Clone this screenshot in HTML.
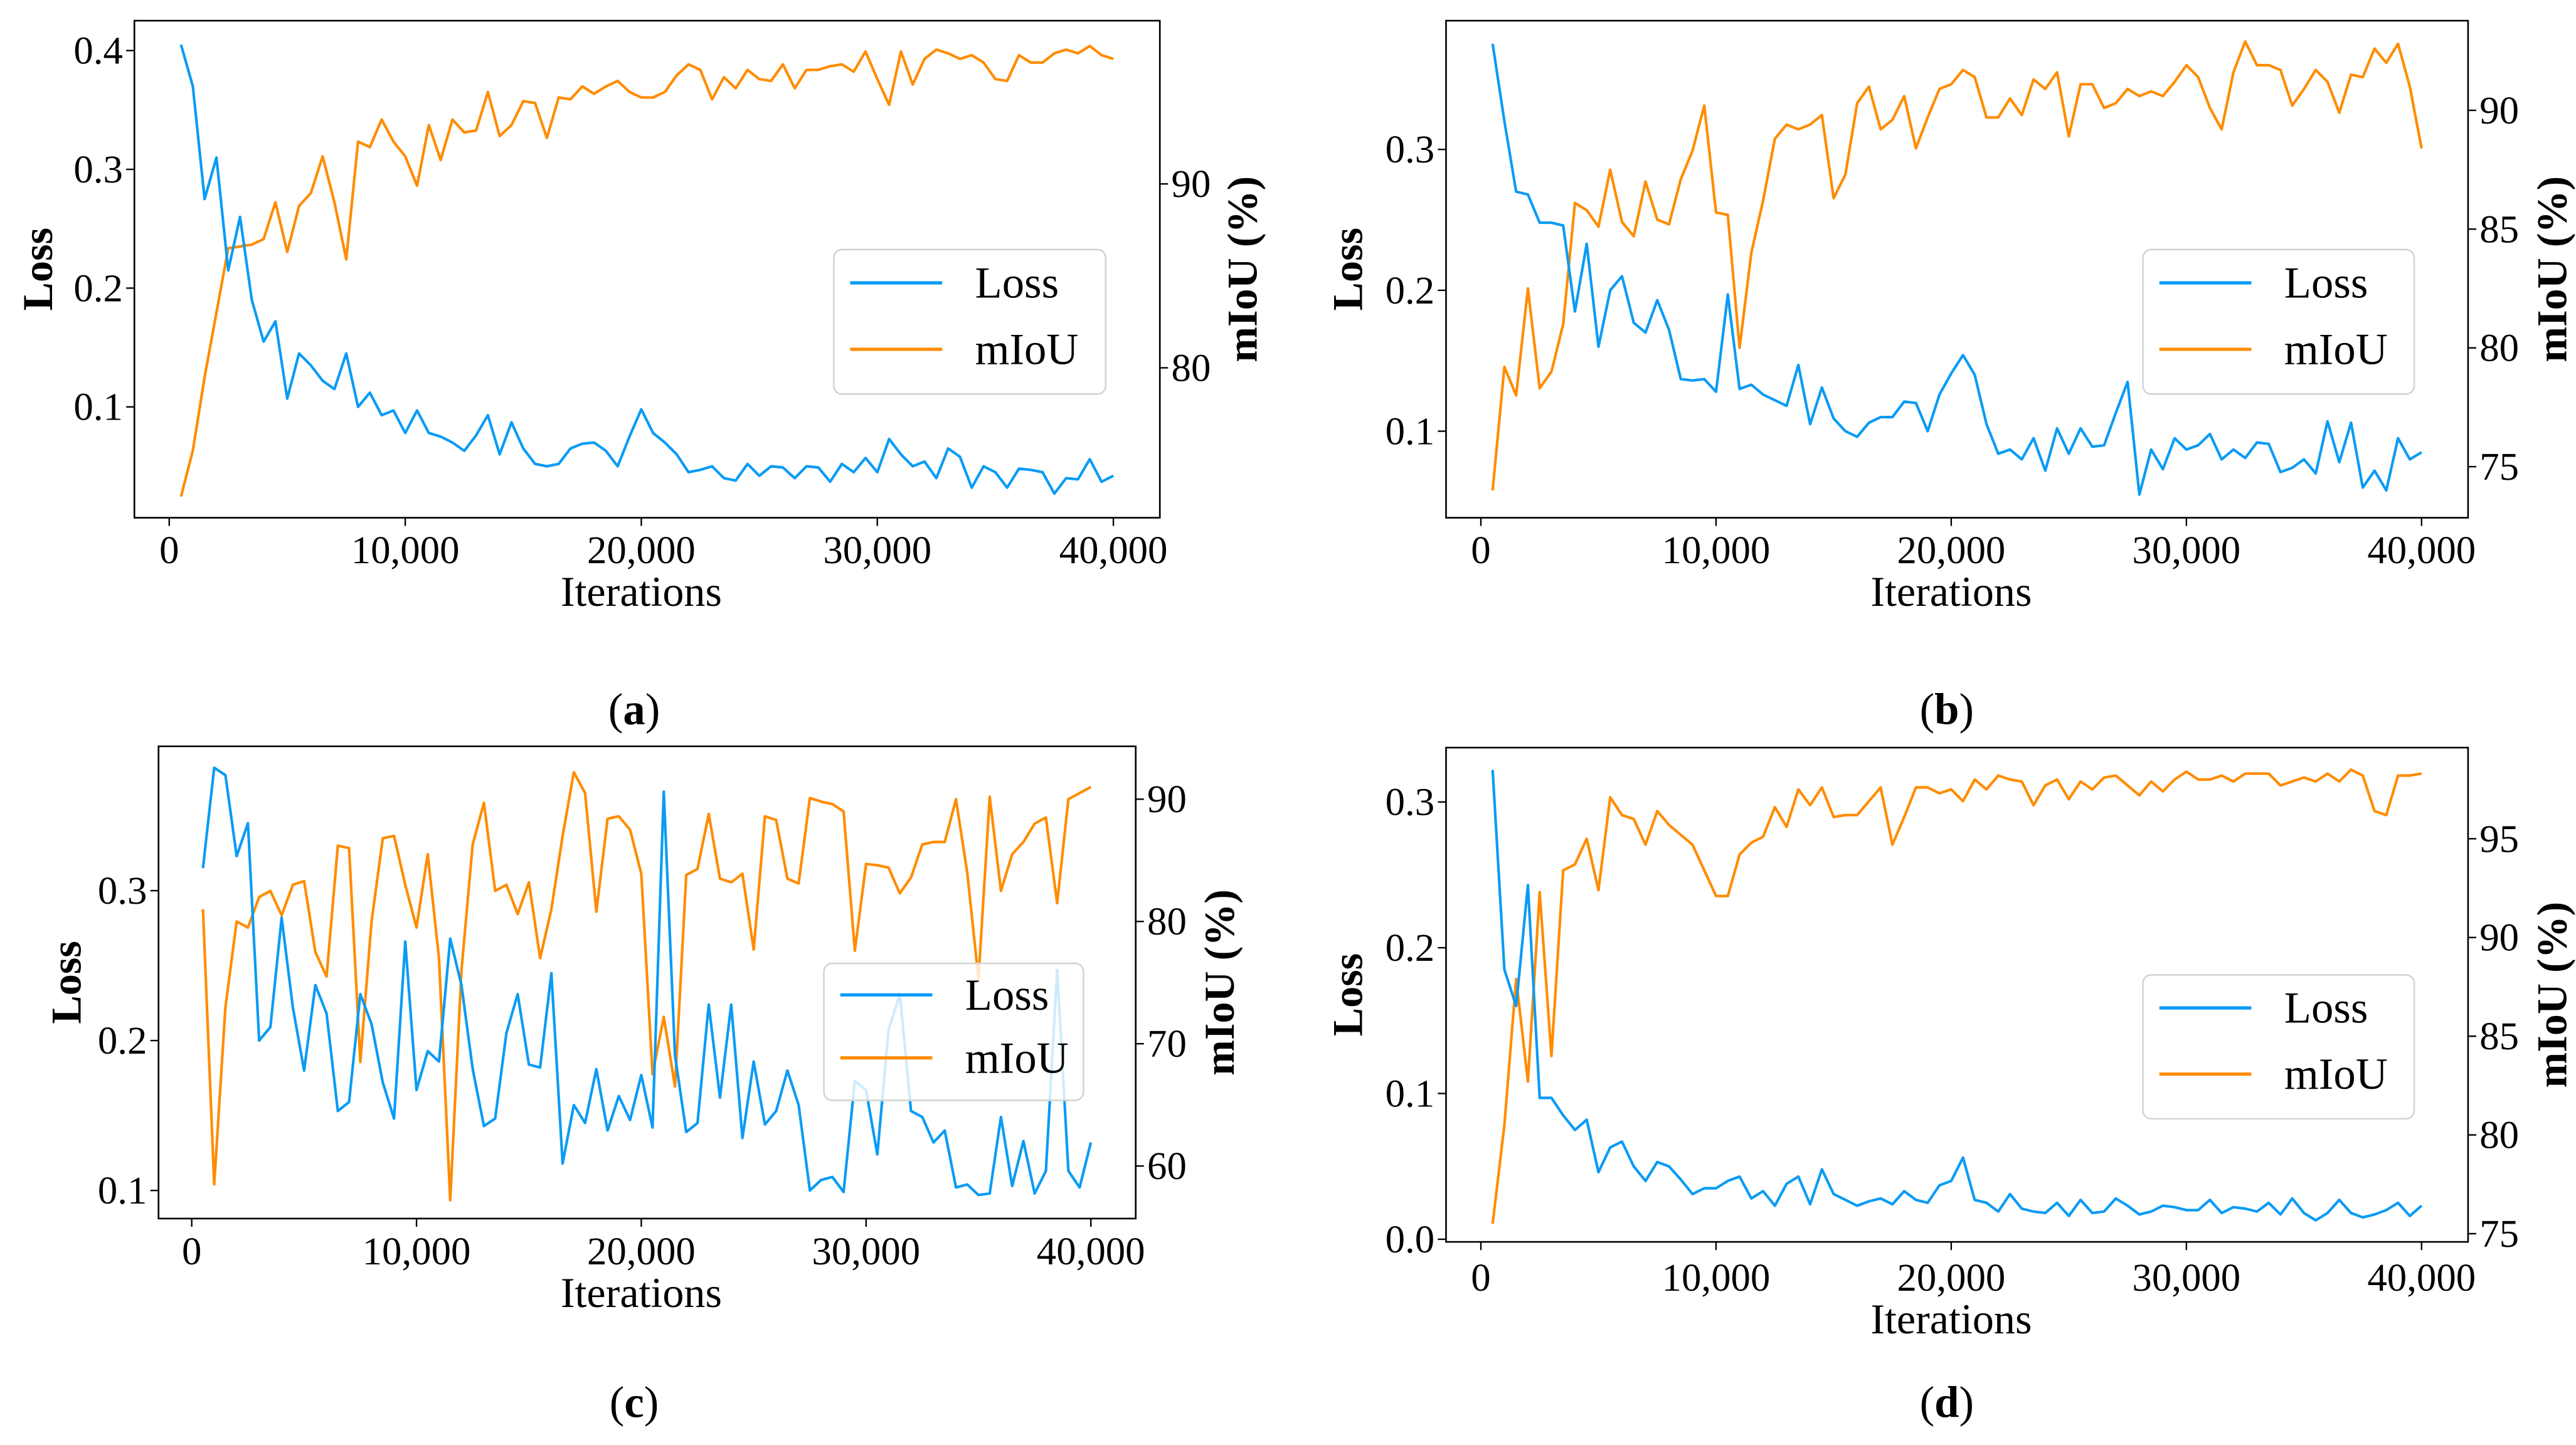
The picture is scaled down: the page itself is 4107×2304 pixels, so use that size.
<!DOCTYPE html>
<html><head><meta charset="utf-8"><style>
html,body{margin:0;padding:0;background:#fff;}
svg{display:block;font-family:"Liberation Serif","DejaVu Serif",serif;}
svg text{font-family:"Liberation Serif","DejaVu Serif",serif !important;fill:#000;}
</style></head><body>
<svg id="fig" xmlns="http://www.w3.org/2000/svg" width="4107" height="2304" viewBox="0 0 1568 880" preserveAspectRatio="none" font-family="Liberation Serif, serif"></svg>
<script>
const iterStep = 500;
const xTicks = [0, 10000, 20000, 30000, 40000];
const xTickLabels = ["0", "10,000", "20,000", "30,000", "40,000"];

const aLoss = [0.405,0.37,0.275,0.31,0.215,0.26,0.19,0.155,0.172,0.107,0.145,0.135,0.122,0.115,0.145,0.1,0.112,0.093,0.097,0.078,0.097,0.078,0.075,0.07,0.063,0.076,0.093,0.06,0.087,0.065,0.052,0.05,0.052,0.065,0.069,0.07,0.063,0.05,0.075,0.098,0.078,0.07,0.06,0.045,0.047,0.05,0.04,0.038,0.052,0.042,0.05,0.049,0.04,0.05,0.049,0.037,0.052,0.045,0.057,0.045,0.073,0.06,0.05,0.054,0.04,0.065,0.058,0.032,0.05,0.045,0.032,0.048,0.047,0.045,0.027,0.04,0.039,0.056,0.037,0.042];
const aMiou = [73,75.5,79.5,83,86.5,86.6,86.7,87,89,86.3,88.8,89.5,91.5,89,85.9,92.3,92,93.5,92.3,91.5,89.9,93.2,91.3,93.5,92.8,92.9,95,92.6,93.2,94.5,94.4,92.5,94.7,94.6,95.3,94.9,95.3,95.6,95,94.7,94.7,95,95.9,96.5,96.2,94.6,95.8,95.2,96.2,95.7,95.6,96.5,95.2,96.2,96.2,96.4,96.5,96.1,97.2,95.7,94.3,97.2,95.4,96.8,97.3,97.1,96.8,97,96.6,95.7,95.6,97,96.6,96.6,97.1,97.3,97.1,97.5,97,96.8];

const bLoss = [0.375,0.32,0.27,0.268,0.248,0.248,0.246,0.185,0.233,0.16,0.2,0.21,0.177,0.17,0.193,0.172,0.137,0.136,0.137,0.128,0.197,0.13,0.133,0.126,0.122,0.118,0.147,0.105,0.131,0.109,0.1,0.096,0.106,0.11,0.11,0.121,0.12,0.1,0.126,0.141,0.154,0.14,0.105,0.084,0.087,0.08,0.095,0.072,0.102,0.084,0.102,0.089,0.09,0.113,0.135,0.055,0.087,0.073,0.095,0.087,0.09,0.098,0.08,0.087,0.081,0.092,0.091,0.071,0.074,0.08,0.07,0.107,0.078,0.106,0.06,0.072,0.058,0.095,0.08,0.085];
const bMiou = [74,79.2,78,82.5,78.3,79,81,86.1,85.8,85.1,87.5,85.3,84.7,87,85.4,85.2,87.1,88.3,90.2,85.7,85.6,80,84,86.2,88.8,89.4,89.2,89.4,89.8,86.3,87.3,90.3,91,89.2,89.6,90.6,88.4,89.7,90.9,91.1,91.7,91.4,89.7,89.7,90.5,89.8,91.3,90.9,91.6,88.9,91.1,91.1,90.1,90.3,90.9,90.6,90.8,90.6,91.2,91.9,91.4,90.1,89.2,91.6,92.9,91.9,91.9,91.7,90.2,90.9,91.7,91.2,89.9,91.5,91.4,92.6,92,92.8,91,88.4];

const cLoss = [0.315,0.382,0.377,0.323,0.345,0.2,0.209,0.282,0.222,0.18,0.237,0.218,0.153,0.159,0.231,0.211,0.172,0.148,0.266,0.167,0.193,0.186,0.268,0.237,0.181,0.143,0.148,0.205,0.231,0.184,0.182,0.245,0.118,0.157,0.145,0.181,0.14,0.163,0.147,0.177,0.142,0.366,0.19,0.139,0.145,0.224,0.162,0.224,0.135,0.186,0.144,0.153,0.18,0.157,0.1,0.107,0.109,0.099,0.173,0.167,0.124,0.207,0.231,0.153,0.149,0.132,0.14,0.102,0.104,0.097,0.098,0.149,0.103,0.133,0.098,0.113,0.247,0.113,0.102,0.132];
const cMiou = [81,58.5,73,80,79.5,82,82.5,80.5,83,83.3,77.5,75.5,86.2,86,68.5,80,86.8,87,83,79.5,85.5,77,57.2,76,86.3,89.7,82.5,83,80.6,83.2,77,81,87,92.2,90.5,80.8,88.4,88.6,87.5,83.9,67.5,72.2,66.5,83.8,84.3,88.8,83.5,83.2,83.9,77.7,88.6,88.3,83.5,83.1,90.1,89.8,89.6,89,77.6,84.7,84.6,84.4,82.3,83.6,86.3,86.5,86.5,90,84,75.3,90.2,82.5,85.5,86.5,88,88.5,81.5,90,90.5,91];

const dLoss = [0.322,0.185,0.16,0.243,0.097,0.097,0.085,0.075,0.082,0.046,0.063,0.067,0.05,0.04,0.053,0.05,0.041,0.031,0.035,0.035,0.04,0.043,0.028,0.033,0.023,0.038,0.043,0.024,0.048,0.031,0.027,0.023,0.026,0.028,0.024,0.033,0.027,0.025,0.037,0.04,0.056,0.027,0.025,0.019,0.031,0.021,0.019,0.018,0.025,0.016,0.027,0.018,0.019,0.028,0.023,0.017,0.019,0.023,0.022,0.02,0.02,0.027,0.018,0.022,0.021,0.019,0.025,0.017,0.028,0.018,0.013,0.018,0.027,0.018,0.015,0.017,0.02,0.025,0.016,0.023];
const dMiou = [75.5,80.5,87.9,82.7,92.3,84,93.4,93.7,95,92.4,97.1,96.2,96,94.7,96.4,95.7,95.2,94.7,93.4,92.1,92.1,94.2,94.8,95.1,96.6,95.6,97.5,96.7,97.6,96.1,96.2,96.2,96.9,97.6,94.7,96.1,97.6,97.6,97.3,97.5,96.9,98,97.5,98.2,98,97.9,96.7,97.7,98,97,97.9,97.5,98.1,98.2,97.7,97.2,97.9,97.4,98,98.4,98,98,98.2,97.9,98.3,98.3,98.3,97.7,97.9,98.1,97.9,98.3,97.9,98.5,98.2,96.4,96.2,98.2,98.2,98.3];

const aLossTicks = [0.1,0.2,0.3,0.4];
const aMiouTicks = [80,90];
const bLossTicks = [0.1,0.2,0.3];
const bMiouTicks = [75,80,85,90];
const cLossTicks = [0.1,0.2,0.3];
const cMiouTicks = [60,70,80,90];
const dLossTicks = [0.0,0.1,0.2,0.3];
const dMiouTicks = [75,80,85,90,95];

const NS = "http://www.w3.org/2000/svg";
const FONT = "Liberation Serif, DejaVu Serif, serif";
const svg = document.getElementById('fig');
function mk(tag, attrs, parent){const e=document.createElementNS(NS,tag);for(const k in attrs)e.setAttribute(k,attrs[k]);if(tag==='text')e.setAttribute('font-family',FONT);(parent||svg).appendChild(e);return e;}
function lin(v0,p0,v1,p1){return v=>p0+(v-v0)*(p1-p0)/(v1-v0);}

const panels = [
 {id:'a',box:[81.8,706,12.6,315.3],x:[103,677.7],loss:[0.4,30.8,0.1,247.8],miou:[90,112,80,224],lt:aLossTicks,mt:aMiouTicks,L:aLoss,M:aMiou,leg:[507.5,673,152,240],lossLblX:22.7,miouLblX:756,cap:[386,441,'a'],xlblY:369,xtY:343,legAlpha:1},
 {id:'b',box:[880.2,1502.3,12.6,315.3],x:[901.4,1474],loss:[0.3,91,0.1,262.6],miou:[90,67.2,75,284.2],lt:bLossTicks,mt:bMiouTicks,L:bLoss,M:bMiou,leg:[1304.4,1469.5,152,240],lossLblX:820,miouLblX:1553,cap:[1185,441,'b'],xlblY:369,xtY:343,legAlpha:1},
 {id:'c',box:[96.5,691.3,454.5,742.1],x:[116.7,664],loss:[0.3,542.4,0.1,725],miou:[90,486.7,60,710.1],lt:cLossTicks,mt:cMiouTicks,L:cLoss,M:cMiou,leg:[501.5,659.5,586.7,670.1],lossLblX:40,miouLblX:742,cap:[386,863,'c'],xlblY:796,xtY:770,legAlpha:0.8},
 {id:'d',box:[880.2,1502.3,455.3,756.3],x:[901.4,1474],loss:[0.3,488.4,0.0,754.7],miou:[95,510.8,75,751.3],lt:dLossTicks,mt:dMiouTicks,L:dLoss,M:dMiou,leg:[1304.4,1469.5,593.7,681.3],lossLblX:820,miouLblX:1553,cap:[1185,863,'d'],xlblY:812,xtY:786,legAlpha:1}
];

panels.forEach(p=>{
  const g = mk('g',{});
  
  
  const [l,r,t,b]=p.box;
  const xs=lin(0,p.x[0],40000,p.x[1]);
  const ys=lin(p.loss[0],p.loss[1],p.loss[2],p.loss[3]);
  const ym=lin(p.miou[0],p.miou[1],p.miou[2],p.miou[3]);
  const cy=(t+b)/2;
  xTicks.forEach((v,i)=>{
    const tk=mk('line',{x1:xs(v),x2:xs(v),y1:b,y2:b+5,stroke:'#000','stroke-width':0.9},g);
    
    
    const tx=mk('text',{x:xs(v),y:p.xtY,'font-size':24,'text-anchor':'middle'},g);
    tx.textContent=xTickLabels[i];
    
    
  });
  p.lt.forEach(v=>{
    const y=ys(v);
    const tk=mk('line',{x1:l-5,x2:l,y1:y,y2:y,stroke:'#000','stroke-width':0.9},g);
    
    
    const tx=mk('text',{x:l-7,y:y+8,'font-size':24,'text-anchor':'end'},g);
    tx.textContent=v.toFixed(1);
    
    
  });
  p.mt.forEach(v=>{
    const y=ym(v);
    const tk=mk('line',{x1:r,x2:r+5,y1:y,y2:y,stroke:'#000','stroke-width':0.9},g);
    
    
    const tx=mk('text',{x:r+7,y:y+8,'font-size':24,'text-anchor':'start'},g);
    tx.textContent=String(v);
    
    
  });
  const cp='clip'+p.id;
  const cpe=mk('clipPath',{id:cp},g);
  mk('rect',{x:l,y:t,width:r-l,height:b-t},cpe);
  const lp=p.L.map((v,i)=>xs((i+1)*iterStep).toFixed(2)+','+ys(v).toFixed(2)).join(' ');
  const mp=p.M.map((v,i)=>xs((i+1)*iterStep).toFixed(2)+','+ym(v).toFixed(2)).join(' ');
  const ml=mk('polyline',{points:mp,fill:'none',stroke:'#ff8c00','stroke-width':1.6,'stroke-linejoin':'round','clip-path':'url(#'+cp+')'},g);
  
  
  const ll=mk('polyline',{points:lp,fill:'none',stroke:'#0a9bf5','stroke-width':1.6,'stroke-linejoin':'round','clip-path':'url(#'+cp+')'},g);
  
  
  const fr=mk('rect',{x:l,y:t,width:r-l,height:b-t,fill:'none',stroke:'#000','stroke-width':1},g);
  
  
  const [gl,gr,gt,gb]=p.leg;
  const lg=mk('g',{},g);
  
  
  mk('rect',{x:gl,y:gt,width:gr-gl,height:gb-gt,rx:5,fill:'#fff','fill-opacity':p.legAlpha,stroke:'#d4d4d4','stroke-width':1},lg);
  const h=gb-gt;
  const y1=gt+h*0.23, y2=gt+h*0.69;
  const e1=mk('line',{x1:gl+10,x2:gl+66,y1:y1,y2:y1,stroke:'#0a9bf5','stroke-width':2},lg);
  
  
  const t1=mk('text',{x:gl+86,y:y1+9,'font-size':27},lg);t1.textContent='Loss';
  
  
  const e2=mk('line',{x1:gl+10,x2:gl+66,y1:y2,y2:y2,stroke:'#ff8c00','stroke-width':2},lg);
  
  
  const t2=mk('text',{x:gl+86,y:y2+9,'font-size':27},lg);t2.textContent='mIoU';
  
  
  const xl=mk('text',{x:(p.x[0]+p.x[1])/2,y:p.xlblY,'font-size':26,'text-anchor':'middle'},g);
  xl.textContent='Iterations';
  
  
  const yl=mk('text',{x:0,y:0,'font-size':26,'font-weight':'bold','text-anchor':'middle',transform:'translate('+(p.lossLblX+9)+','+cy+') rotate(-90)'},g);
  yl.textContent='Loss';
  
  
  const yr=mk('text',{x:0,y:0,'font-size':26,'font-weight':'bold','text-anchor':'middle',transform:'translate('+(p.miouLblX+9)+','+cy+') rotate(-90)'},g);
  yr.textContent='mIoU (%)';
  
  
  const cap=mk('text',{x:p.cap[0],y:p.cap[1],'font-size':27,'text-anchor':'middle'},g);
  cap.innerHTML='(<tspan font-weight="bold">'+p.cap[2]+'</tspan>)';
  
  
});
</script>
</body></html>
